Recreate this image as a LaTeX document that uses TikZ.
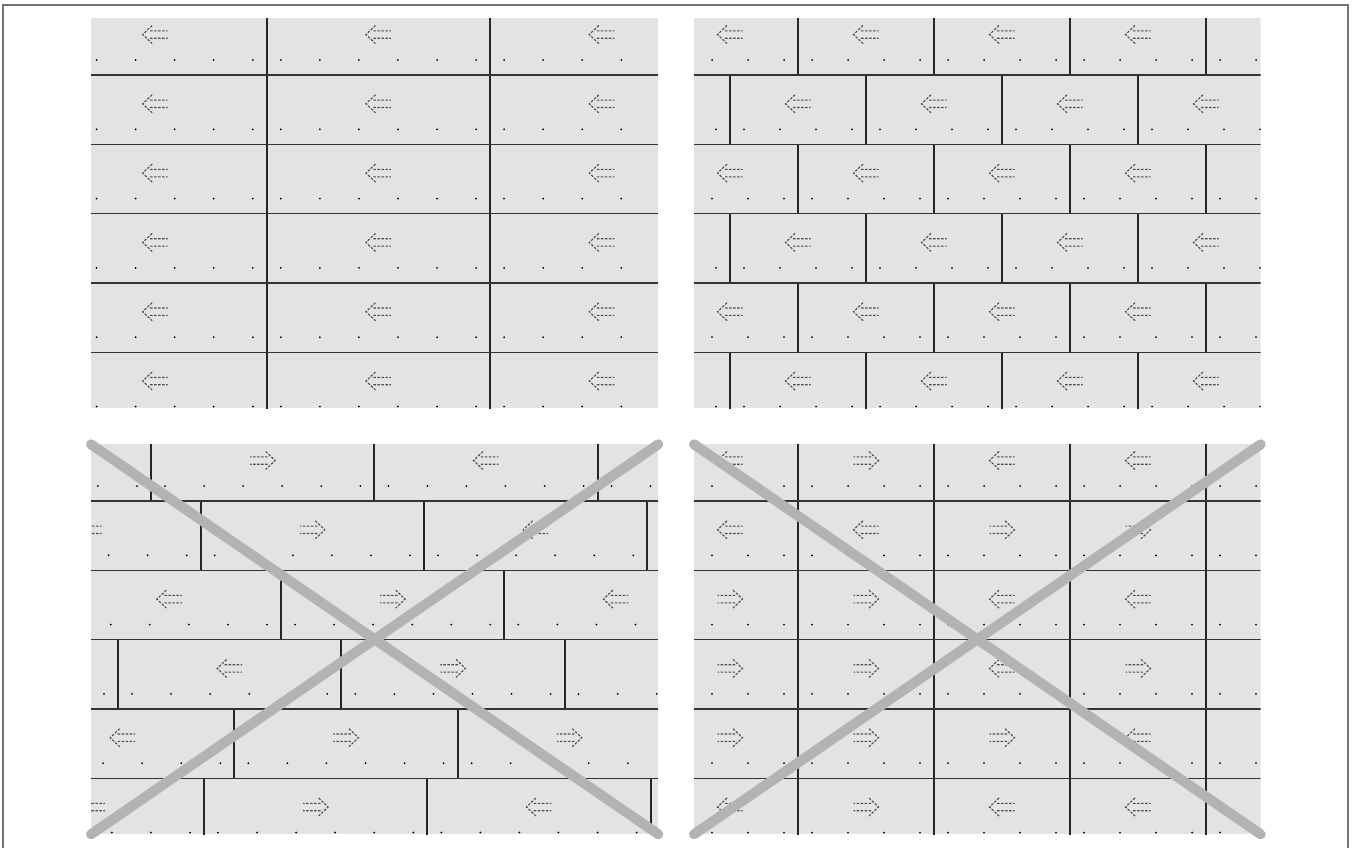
\documentclass[tikz,border=0pt]{standalone}
\definecolor{plankfill}{HTML}{E3E3E3}
\definecolor{crossgray}{HTML}{B3B3B3}
\tikzset{
  seam/.style={draw=black!80,line width=1.2},
  joint/.style={draw=black!85,line width=2},
  crossline/.style={draw=crossgray,line width=10,line cap=round},
  pics/larr/.style={code={
    \draw[black!70,line width=1.1,dash pattern=on 2.5 off 1.5]
      (-3,-9) .. controls (-7,-4) .. (-12.5,0) .. controls (-7,4) .. (-3,9)
      (-5,-3.7) -- (12.5,-3.7) (-5,3.7) -- (12.5,3.7);
  }},
  % one board: joint at its start, dots along the lower edge
  pics/board/.style 2 args={code={
    \draw[joint] (0,0) -- (0,69.3);
    \foreach \k in {0,...,#2} \fill[black] (14+\k*#1/#2-\k*28/#2,54.3) circle (1);
  }},
}
\begin{document}
\begin{tikzpicture}[x=1pt,y=-1pt]
\useasboundingbox (0,0) rectangle (1355,847);
\draw[black!55,line width=1.5] (3,850) -- (3,5) -- (1348,5) -- (1348,850);

% top left: stacked
\begin{scope}
  \clip (91,18.3) rectangle (658.3,408.3);
  \fill[plankfill] (91,18.3) rectangle (658.3,408.3);
  \foreach \r in {0,...,5} {
    \foreach \s in {43.5,266.8,490.1} {
      \pic at (\s,5.7+\r*69.3) {board={223.3}{5}};
      \pic at (\s+111.65,34.5+\r*69.3) {larr};
    }
    \draw[seam] (91,5.7+\r*69.3) -- (658.3,5.7+\r*69.3);
  }
\end{scope}

% top right: half bond
\begin{scope}
  \clip (694,18.3) rectangle (1260.7,408.3);
  \fill[plankfill] (694,18.3) rectangle (1260.7,408.3);
  \foreach \r in {0,...,5} {
    \pgfmathsetmacro\rowshift{mod(\r,2)*68}
    \foreach \s in {662,798,934,1070,1206} {
      \pic at (\s-\rowshift,5.7+\r*69.3) {board={136}{3}};
      \pic at (\s-\rowshift+68,34.5+\r*69.3) {larr};
    }
    \draw[seam] (694,5.7+\r*69.3) -- (1260.7,5.7+\r*69.3);
  }
\end{scope}

% bottom left: random, mixed directions
\begin{scope}[shift={(0,426)}]
  \clip (91,18.3) rectangle (658.3,408.3);
  \fill[plankfill] (91,18.3) rectangle (658.3,408.3);
  \foreach \r/\row in {0/{-72.3/1,151/-1,374.3/1,597.6/1},
                       1/{-22.6/1,200.7/-1,424/1,647.3/1},
                       2/{57.7/1,281/-1,504.3/1},
                       3/{-105.3/1,118/1,341.3/-1,564.6/1},
                       4/{11/1,234.3/-1,457.6/-1},
                       5/{-19.3/1,204/-1,427.3/1,650.6/1}} {
    \foreach \s/\d in \row {
      \pic at (\s,5.7+\r*69.3) {board={223.3}{5}};
      \pic[xscale=\d] at (\s+111.65,34.5+\r*69.3) {larr};
    }
    \draw[seam] (91,5.7+\r*69.3) -- (658.3,5.7+\r*69.3);
  }
\end{scope}

% bottom right: grid, mixed directions
\begin{scope}[shift={(0,426)}]
  \clip (694,18.3) rectangle (1260.7,408.3);
  \fill[plankfill] (694,18.3) rectangle (1260.7,408.3);
  \foreach \r/\dirs in {0/{1,-1,1,1,1},1/{1,1,-1,-1,1},2/{-1,-1,1,1,1},
                        3/{-1,-1,1,-1,1},4/{-1,-1,-1,1,1},5/{1,-1,1,1,1}} {
    \foreach \d [count=\i from 0] in \dirs {
      \pic at (662+\i*136,5.7+\r*69.3) {board={136}{3}};
      \pic[xscale=\d] at (730+\i*136,34.5+\r*69.3) {larr};
    }
    \draw[seam] (694,5.7+\r*69.3) -- (1260.7,5.7+\r*69.3);
  }
\end{scope}

% crossed out
\draw[crossline] (91,444.3) -- (658.3,834.3) (658.3,444.3) -- (91,834.3);
\draw[crossline] (694,444.3) -- (1260.7,834.3) (1260.7,444.3) -- (694,834.3);
\end{tikzpicture}
\end{document}
